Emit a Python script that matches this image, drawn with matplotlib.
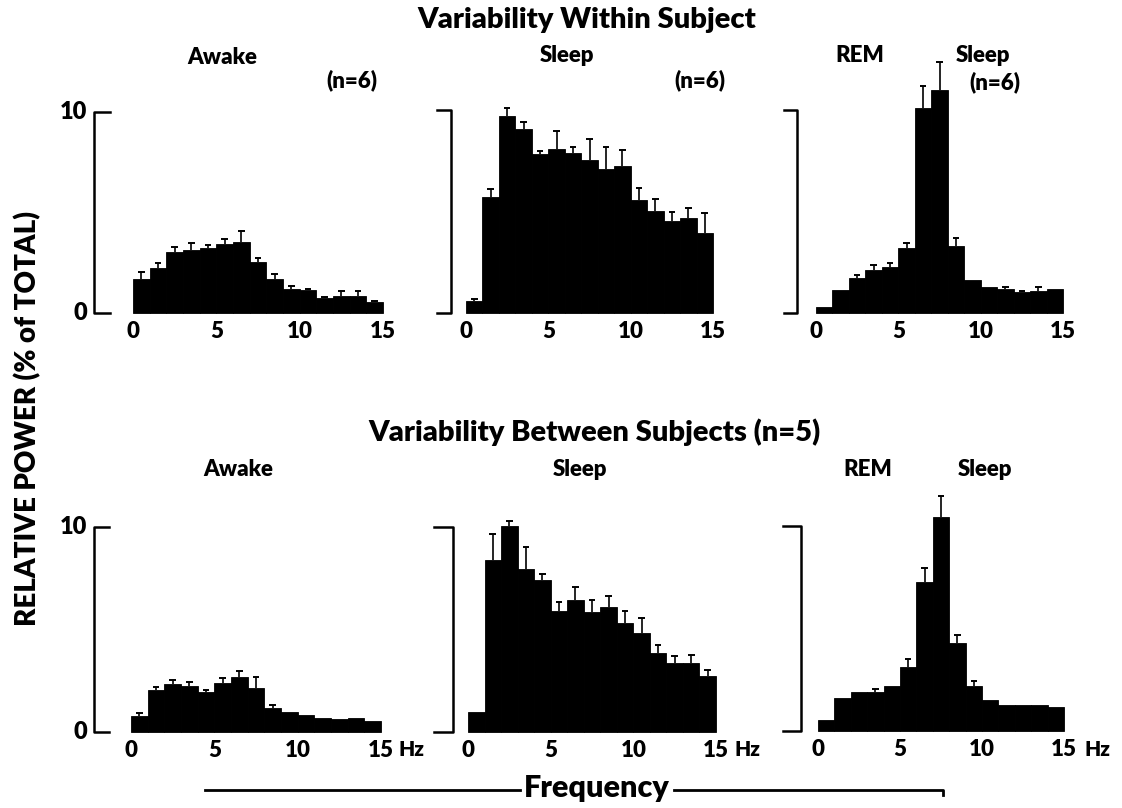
import matplotlib.pyplot as plt
from matplotlib.lines import Line2D

plt.rcParams['font.family'] = ['Lato', 'DejaVu Sans']
plt.rcParams['font.weight'] = 'heavy'

W, H = 1122, 808

# 1-Hz frequency bins, left edges 0..14
bins = list(range(15))
freq_ticks = [0, 5, 10, 15]

# Variability within subject (n=6)
awake_within = [1.70, 2.23, 3.02, 3.14, 3.24, 3.45, 3.55, 2.55, 1.70, 1.21, 1.12, 0.74, 0.86, 0.86, 0.55]
awake_within_err = [0.32, 0.25, 0.25, 0.36, 0.15, 0.25, 0.55, 0.21, 0.23, 0.15, 0.05, 0.06, 0.25, 0.25, 0.05]
sleep_within = [0.58, 5.72, 9.72, 9.06, 7.83, 8.07, 7.87, 7.56, 7.07, 7.22, 5.55, 5.02, 4.53, 4.70, 3.95]
sleep_within_err = [0.11, 0.41, 0.38, 0.36, 0.13, 0.88, 0.32, 1.01, 1.12, 0.80, 0.59, 0.61, 0.45, 0.49, 0.96]
rem_within = [0.30, 1.14, 1.70, 2.11, 2.26, 3.21, 10.10, 10.99, 3.29, 1.65, 1.27, 1.20, 1.04, 1.10, 1.19]
rem_within_err = [0, 0, 0.19, 0.25, 0.21, 0.22, 1.10, 1.37, 0.38, 0, 0, 0.10, 0.06, 0.18, 0]

# Variability between subjects (n=5)
awake_between = [0.78, 2.04, 2.36, 2.25, 1.95, 2.39, 2.69, 2.17, 1.19, 0.98, 0.85, 0.68, 0.65, 0.68, 0.54]
awake_between_err = [0.16, 0.16, 0.16, 0.19, 0.12, 0.25, 0.27, 0.50, 0.15, 0, 0, 0, 0, 0, 0]
sleep_between = [1.00, 8.41, 10.05, 7.97, 7.41, 5.90, 6.43, 5.85, 6.11, 5.33, 4.85, 3.84, 3.39, 3.39, 2.74]
sleep_between_err = [0, 1.27, 0.25, 1.06, 0.32, 0.42, 0.65, 0.60, 0.54, 0.59, 0.69, 0.41, 0.34, 0.37, 0.29]
rem_between = [0.52, 1.63, 1.90, 1.90, 2.20, 3.12, 7.27, 10.44, 4.29, 2.18, 1.50, 1.28, 1.28, 1.25, 1.17]
rem_between_err = [0, 0, 0, 0.13, 0, 0.38, 0.68, 1.02, 0.38, 0.26, 0, 0, 0, 0, 0]


def fx(x):
    return x / W


def fy(y):
    return 1 - y / H


fig = plt.figure(figsize=(W / 100, H / 100), dpi=100)

# panel layout in pixels: x of 0 Hz, x of 15 Hz, y of 0, y of 10, bracket x, bracket tick dx
panels = [
    (awake_within, awake_within_err, 133, 383, 313, 112, 94, 16),
    (sleep_within, sleep_within_err, 466, 713, 313, 110, 451, -14),
    (rem_within, rem_within_err, 816, 1063, 313, 110, 797, -13),
    (awake_between, awake_between_err, 131, 381, 732, 527, 94, 15),
    (sleep_between, sleep_between_err, 468, 716, 732, 527, 453, -19),
    (rem_between, rem_between_err, 818, 1064, 731, 526, 801, -18),
]

for vals, errs, x0, x15, y0, y10, bx, dx in panels:
    ax = fig.add_axes([fx(x0), fy(y0), fx(x15 - x0), (y0 - y10) / H])
    bars = ax.bar(bins, vals, width=1, align='edge', color='black',
                  edgecolor='black', linewidth=0.6)
    for p in bars:
        p.set_clip_on(False)
    # upper error bars only
    for b, v, e in zip(bins, vals, errs):
        if e <= 0:
            continue
        c = b + 0.5
        ax.vlines(c, v, v + e, color='black', linewidth=1.2, clip_on=False)
        ax.hlines(v + e, c - 0.2, c + 0.2, color='black', linewidth=1.4, clip_on=False)
    ax.set_xlim(0, 15)
    ax.set_ylim(0, 10)
    for s in ax.spines.values():
        s.set_visible(False)
    ax.set_yticks([])
    ax.set_xticks(freq_ticks)
    ax.set_xticklabels([str(t) for t in freq_ticks], fontsize=16, fontweight='heavy')
    ax.tick_params(axis='x', length=0, pad=6)

    # bracket-style y scale bar
    fig.add_artist(Line2D([fx(bx + dx), fx(bx), fx(bx), fx(bx + dx)],
                          [fy(y10), fy(y10), fy(y0), fy(y0)],
                          color='black', linewidth=1.8))
    if dx > 0:
        fig.text(fx(bx - 7), fy(y10), '10', ha='right', va='center', fontsize=17)
        fig.text(fx(bx - 7), fy(y0), '0', ha='right', va='center', fontsize=17)

# titles and panel labels
fig.text(fx(587), fy(20), 'Variability Within Subject', ha='center', va='center', fontsize=21)
fig.text(fx(595), fy(432), 'Variability Between Subjects (n=5)', ha='center', va='center', fontsize=21)

fig.text(fx(222), fy(57), 'Awake', ha='center', va='center', fontsize=16)
fig.text(fx(352), fy(80), '(n=6)', ha='center', va='center', fontsize=16)
fig.text(fx(567), fy(55), 'Sleep', ha='center', va='center', fontsize=16)
fig.text(fx(700), fy(80), '(n=6)', ha='center', va='center', fontsize=16)
fig.text(fx(860), fy(55), 'REM', ha='center', va='center', fontsize=16)
fig.text(fx(983), fy(55), 'Sleep', ha='center', va='center', fontsize=16)
fig.text(fx(995), fy(82), '(n=6)', ha='center', va='center', fontsize=16)

fig.text(fx(238), fy(470), 'Awake', ha='center', va='center', fontsize=16)
fig.text(fx(580), fy(470), 'Sleep', ha='center', va='center', fontsize=16)
fig.text(fx(868), fy(470), 'REM', ha='center', va='center', fontsize=16)
fig.text(fx(985), fy(470), 'Sleep', ha='center', va='center', fontsize=16)

for hx in (412, 747, 1097):
    fig.text(fx(hx), fy(749), 'Hz', ha='center', va='center', fontsize=15)

fig.text(fx(28), fy(418), 'RELATIVE POWER (% of TOTAL)', rotation=90,
         ha='center', va='center', fontsize=20)

# frequency axis label with long rules
fig.text(fx(597), fy(797), 'Frequency', ha='center', va='baseline', fontsize=22)
fig.add_artist(Line2D([fx(205), fx(520)], [fy(790), fy(790)], color='black', linewidth=2))
fig.add_artist(Line2D([fx(674), fx(943), fx(943)], [fy(790), fy(790), fy(795)],
                      color='black', linewidth=2))

fig.savefig('out.png', dpi=100)
